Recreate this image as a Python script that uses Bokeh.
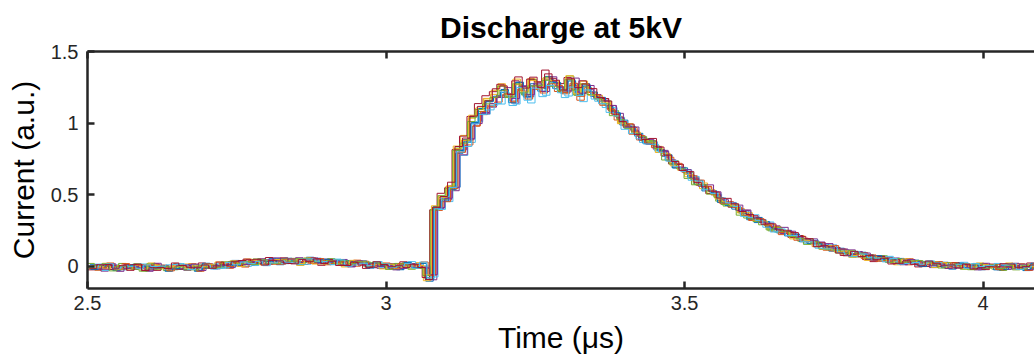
import numpy as np
from bokeh.plotting import figure
from bokeh.models import FixedTicker, LinearAxis, Range1d
from bokeh.embed import file_html
from bokeh.resources import INLINE

# ---------------- data ----------------
t_start_us = 2.5
t_step_us = 0.0125
current_base = [
    0.00, -0.01, 0.00, -0.01, 0.00, -0.01, 0.00, -0.01,
    0.00, -0.01, -0.01, 0.00, -0.01, 0.00, -0.01, 0.00,
    0.00, 0.01, 0.01, 0.02, 0.02, 0.03, 0.03, 0.03,
    0.04, 0.03, 0.04, 0.04, 0.03, 0.04, 0.04, 0.03,
    0.03, 0.03, 0.02, 0.02, 0.02, 0.01, 0.01, 0.00,
    0.00, 0.00, 0.01, 0.00, 0.01, -0.08, 0.40, 0.48,
    0.55, 0.80, 0.88, 1.02, 1.08, 1.14, 1.19, 1.23,
    1.16, 1.27, 1.20, 1.27, 1.24, 1.31, 1.26, 1.22,
    1.30, 1.20, 1.25, 1.20, 1.16, 1.12, 1.06, 1.00,
    0.96, 0.91, 0.88, 0.85, 0.80, 0.76, 0.71, 0.67,
    0.63, 0.59, 0.55, 0.51, 0.47, 0.44, 0.41, 0.38,
    0.35, 0.32, 0.30, 0.27, 0.25, 0.23, 0.21, 0.19,
    0.17, 0.155, 0.14, 0.125, 0.11, 0.095, 0.085, 0.075,
    0.065, 0.055, 0.05, 0.04, 0.035, 0.03, 0.025, 0.02,
    0.015, 0.01, 0.01, 0.005, 0.005, 0.00, 0.00, 0.00,
    -0.005, 0.00, -0.005, 0.00, 0.00, -0.005, 0.00, 0.00,
    0.00,
]
# per-shot differences (time jitter, amplitude, sample noise)
trace_shift_us = [0.004, 0.007, 0.000, 0.010, 0.002, 0.012, -0.002,
                  0.005, 0.008, 0.001, 0.011, -0.001, 0.006, 0.003]
trace_scale = [1.00, 0.98, 1.02, 0.99, 1.01, 0.97, 1.03,
               1.00, 0.985, 1.015, 0.995, 1.005, 0.975, 1.025]
jitter = [0.012, -0.018, 0.006, 0.021, -0.009, -0.024, 0.015, 0.003,
          -0.014, 0.019, -0.004, 0.009, -0.021, 0.024, -0.011, 0.001,
          0.017, -0.016, 0.008, -0.006, 0.022, -0.019, 0.004, 0.013,
          -0.023, 0.010, -0.002, 0.018, -0.013, 0.005, -0.008, 0.020,
          -0.017, 0.011, -0.001, 0.016, -0.010]

x_ticks = [2.5, 3.0, 3.5, 4.0]
x_tick_labels = ["2.5", "3", "3.5", "4"]
y_ticks = [0.0, 0.5, 1.0, 1.5]
y_tick_labels = ["0", "0.5", "1", "1.5"]

colors = ["#0072BD", "#D95319", "#EDB120", "#7E2F8E",
          "#77AC30", "#4DBEEE", "#A2142F"]

FONT = "Liberation Sans"
AX = "#262626"

n = len(current_base)
time_us = t_start_us + t_step_us * np.arange(n)
base = np.array(current_base)

p = figure(width=1034, height=358,
           x_range=Range1d(2.5, 4.086), y_range=Range1d(-0.154, 1.5),
           output_backend="svg", toolbar_location=None,
           min_border_left=87, min_border_right=0,
           min_border_top=51, min_border_bottom=70,
           title="Discharge at 5kV")
p.outline_line_color = None
p.xgrid.visible = False
p.ygrid.visible = False
p.background_fill_color = "white"
p.border_fill_color = "white"

for k in range(len(trace_shift_us)):
    noise = np.array([jitter[(i * 3 + k * 7) % len(jitter)] for i in range(n)])
    y = base * trace_scale[k] + noise
    p.step(time_us + trace_shift_us[k], y, mode="after",
           line_color=colors[k % len(colors)], line_width=1)

p.title.align = "center"
p.title.text_font = FONT
p.title.text_font_size = "30px"
p.title.text_font_style = "bold"
p.title.text_color = "#000000"
p.title.standoff = 15

def style_axis(ax, ticks, labels, show_labels=True):
    ax.ticker = FixedTicker(ticks=ticks)
    ax.major_label_overrides = {t: l for t, l in zip(ticks, labels)}
    ax.axis_line_color = AX
    ax.axis_line_width = 2.5
    ax.major_tick_line_color = AX
    ax.major_tick_line_width = 2.5
    ax.major_tick_in = 7
    ax.major_tick_out = 0
    ax.minor_tick_line_color = None
    ax.major_label_text_font = FONT
    ax.major_label_text_color = AX
    ax.major_label_text_font_size = "20px" if show_labels else "0px"
    ax.axis_label_text_font = FONT
    ax.axis_label_text_font_size = "30px"
    ax.axis_label_text_font_style = "normal"
    ax.axis_label_text_color = "#000000"

style_axis(p.xaxis[0], x_ticks, x_tick_labels)
style_axis(p.yaxis[0], y_ticks, y_tick_labels)
p.xaxis[0].axis_label = "Time (μs)"
p.yaxis[0].axis_label = "Current (a.u.)"
p.xaxis[0].major_label_standoff = 7
p.yaxis[0].major_label_standoff = 9
p.xaxis[0].axis_label_standoff = 8
p.yaxis[0].axis_label_standoff = 8

top_axis = LinearAxis()
style_axis(top_axis, x_ticks, ["", "", "", ""], show_labels=False)
top_axis.major_label_standoff = 0
p.add_layout(top_axis, "above")

open("out.html", "w").write(file_html(p, INLINE))
